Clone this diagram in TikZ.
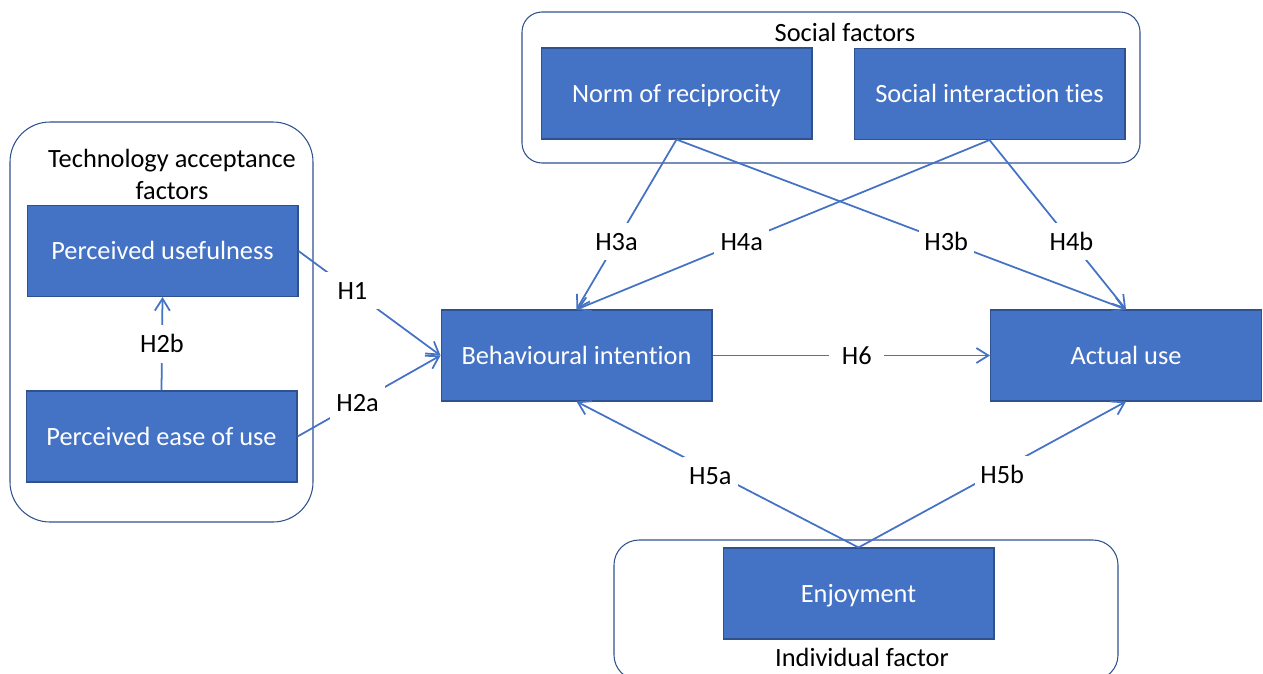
\documentclass[tikz,border=0pt]{standalone}
\usepackage{fontspec}
\setmainfont{Carlito}[Ligatures=NoCommon]
\usetikzlibrary{arrows.meta}
\definecolor{boxblue}{HTML}{4472C4}
\definecolor{edgeblue}{HTML}{2F528F}

\begin{document}
\begin{tikzpicture}[x=0.02cm,y=-0.02cm,factor/.style={rectangle,draw=edgeblue,line width=0.6pt,fill=boxblue,text=white,minimum width=5.42cm,minimum height=1.82cm,inner sep=0pt,text height=10pt,text depth=0pt,font=\fontsize{15}{18}\selectfont},group/.style={draw=edgeblue,line width=0.6pt},hyp/.style={draw=boxblue,line width=1pt,-{Straight Barb[length=2.4mm,width=3mm]}},hlabel/.style={fill=white,minimum width=1.1cm,minimum height=0.75cm,inner sep=0pt,text height=10pt,text depth=0pt,font=\fontsize{15}{18}\selectfont},caption/.style={font=\fontsize{15}{18.2}\selectfont,align=center}]
\useasboundingbox (0,0) rectangle (1263,673);
\draw[group,rounded corners=0.8cm] (10,122) rectangle (313,522);
\draw[group,rounded corners=0.4cm] (522,12) rectangle (1140,163);
\draw[group,rounded corners=0.5cm] (614,540) rectangle (1118,680);
\node[caption] (tamcap) at (172,174) {Technology acceptance\\factors};
\node[caption] (soccap) at (845,32) {Social factors};
\node[caption] (indcap) at (862,657) {Individual factor};
\node[factor] (pu) at (162.5,251) {Perceived usefulness};
\node[factor] (peou) at (161.5,436.5) {Perceived ease of use};
\node[factor] (bi) at (576.5,355.5) {Behavioural intention};
\node[factor] (au) at (1126,355.5) {Actual use};
\node[factor] (nr) at (676.5,93.5) {Norm of reciprocity};
\node[factor] (sit) at (989.5,94) {Social interaction ties};
\node[factor] (en) at (858.5,593.5) {Enjoyment};
\draw[hyp] (pu.east) -- node[hlabel,pos=0.38] {H1} (bi.west);
\draw[hyp] (peou.east) -- node[hlabel,pos=0.42] {H2a} (bi.west);
\draw[hyp] (peou.north) -- node[hlabel,pos=0.5] {H2b} (pu.south);
\draw[hyp] (nr.south) -- node[hlabel,pos=0.6] {H3a} (bi.north);
\draw[hyp] (nr.south) -- node[hlabel,pos=0.6] {H3b} (au.north);
\draw[hyp] (sit.south) -- node[hlabel,pos=0.6] {H4a} (bi.north);
\draw[hyp] (sit.south) -- node[hlabel,pos=0.6] {H4b} (au.north);
\draw[hyp] (en.north) -- node[hlabel,pos=0.49,xshift=-0.2cm] {H5a} (bi.south);
\draw[hyp] (en.north) -- node[hlabel,pos=0.5,xshift=0.2cm] {H5b} (au.south);
\draw[hyp] (bi.east) -- node[hlabel,pos=0.52] {H6} (au.west);
\end{tikzpicture}
\end{document}
